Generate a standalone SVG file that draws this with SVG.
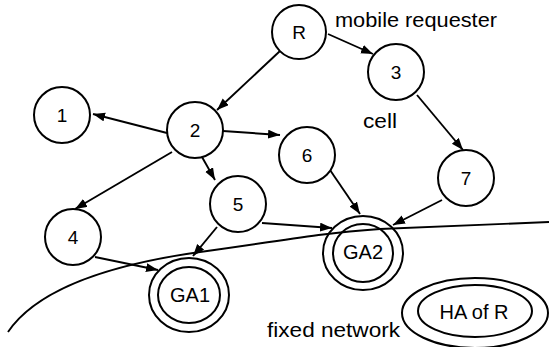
<svg xmlns="http://www.w3.org/2000/svg" width="549" height="347" viewBox="0 0 549 347">
<defs>
<marker id="arr" markerUnits="userSpaceOnUse" markerWidth="13" markerHeight="10" refX="12" refY="4.5" orient="auto">
<path d="M0,0 L12,4.5 L0,9 z" fill="#000"/>
</marker>
<style>
.n{fill:#fff;stroke:#000;stroke-width:2}
.e{fill:none;stroke:#000;stroke-width:1.9;marker-end:url(#arr)}
.t{font-family:"Liberation Sans",Arial,sans-serif;font-size:19px;fill:#000;text-anchor:middle}
.g{font-size:20px}
.l{font-family:"Liberation Sans",Arial,sans-serif;font-size:20px;fill:#000}
</style>
</defs>
<rect width="549" height="347" fill="#fff"/>
<g id="connectors">
<line class="e" x1="280" y1="51" x2="217" y2="110"/>
<line class="e" x1="328" y1="34" x2="373" y2="54"/>
<line class="e" x1="417" y1="95" x2="463" y2="150"/>
<line class="e" x1="167" y1="133" x2="93" y2="114"/>
<line class="e" x1="223" y1="131" x2="280" y2="135"/>
<line class="e" x1="202" y1="157" x2="215" y2="180"/>
<line class="e" x1="172" y1="152" x2="75" y2="209"/>
<line class="e" x1="95" y1="257" x2="158" y2="270"/>
<line class="e" x1="217" y1="227" x2="193" y2="256"/>
<line class="e" x1="262" y1="223" x2="332" y2="228"/>
<line class="e" x1="330" y1="170" x2="360" y2="214"/>
<line class="e" x1="442" y1="200" x2="393" y2="225"/>
</g>
<g id="R"><circle class="n" cx="299" cy="32" r="27"/><text class="t" x="299" y="39">R</text></g>
<g id="n3"><circle class="n" cx="396" cy="72" r="28"/><text class="t" x="396" y="79">3</text></g>
<g id="n1"><circle class="n" cx="62" cy="115" r="28"/><text class="t" x="62" y="122">1</text></g>
<g id="n2"><circle class="n" cx="195" cy="130" r="28"/><text class="t" x="195" y="137">2</text></g>
<g id="n6"><circle class="n" cx="307" cy="155" r="28"/><text class="t" x="307" y="162">6</text></g>
<g id="n7"><circle class="n" cx="466" cy="178" r="28"/><text class="t" x="466" y="185">7</text></g>
<g id="n5"><circle class="n" cx="238" cy="204" r="28"/><text class="t" x="238" y="211">5</text></g>
<g id="n4"><circle class="n" cx="73" cy="237" r="28"/><text class="t" x="73" y="244">4</text></g>
<g id="GA1"><ellipse class="n" cx="189" cy="295" rx="40" ry="37"/><ellipse class="n" cx="189" cy="295" rx="31" ry="28"/><text class="t g" x="190" y="302">GA1</text></g>
<g id="GA2"><ellipse class="n" cx="363" cy="253" rx="40" ry="37"/><ellipse class="n" cx="363" cy="253" rx="30" ry="29"/><text class="t g" x="363" y="259">GA2</text></g>
<g id="HA"><ellipse class="n" cx="475" cy="313" rx="73" ry="35"/><ellipse class="n" cx="475" cy="311" rx="57" ry="26"/><text class="t g" x="474" y="319">HA of R</text></g>
<path d="M8,332 C35,292 100,266 200,252 S315,234 380,229 L549,222" fill="none" stroke="#000" stroke-width="1.9"/>
<text class="l" x="335" y="27" textLength="162" lengthAdjust="spacingAndGlyphs">mobile requester</text>
<text class="l" x="363" y="128" textLength="34" lengthAdjust="spacingAndGlyphs">cell</text>
<text class="l" x="267" y="337" textLength="133" lengthAdjust="spacingAndGlyphs">fixed network</text>
</svg>
